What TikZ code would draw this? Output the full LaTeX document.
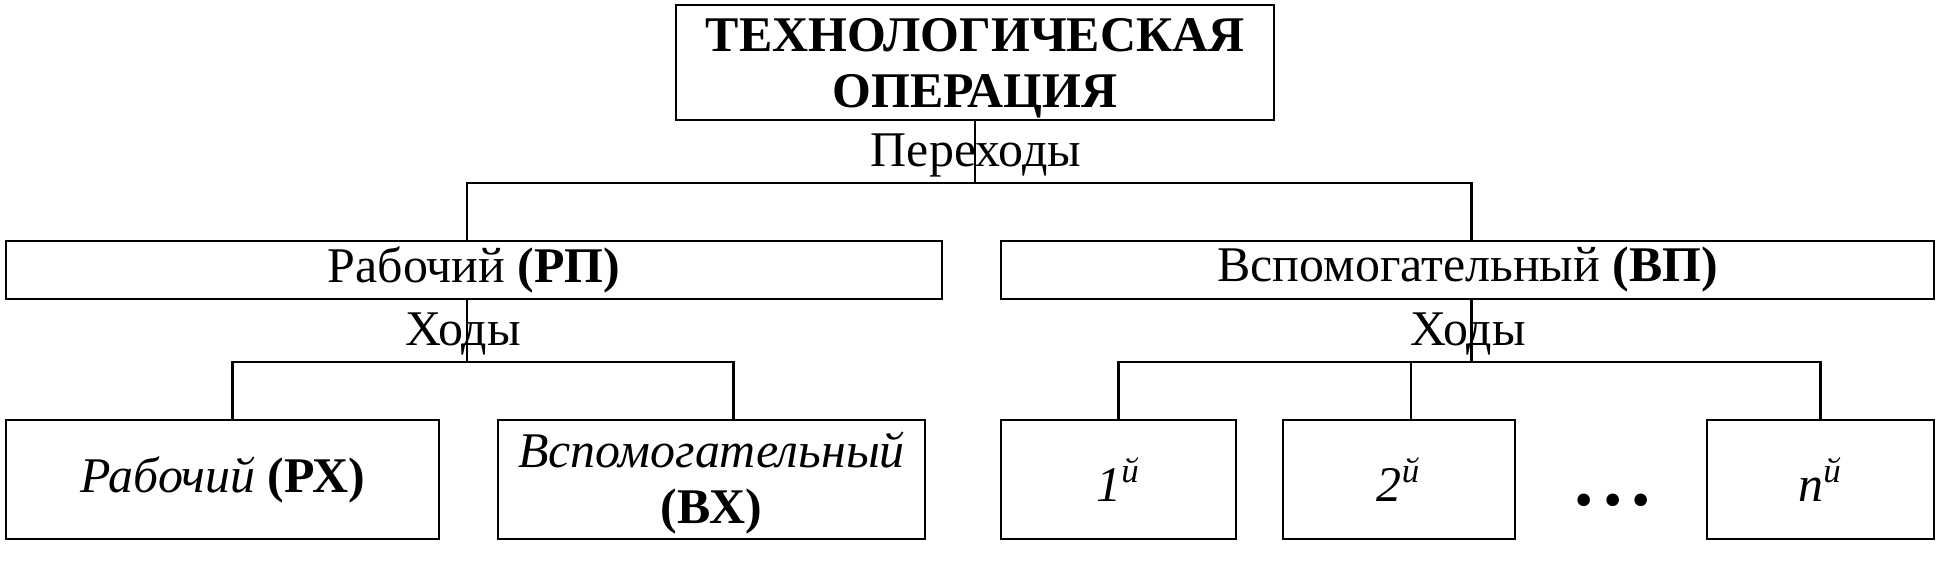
\documentclass[tikz,border=0pt]{standalone}
\usepackage{fontspec}
\setmainfont{Liberation Serif}
\usepackage{tikz}
\usetikzlibrary{calc, positioning}

\begin{document}
\begin{tikzpicture}[
    box/.style={draw, line width=0.7pt, inner sep=0pt, align=center, font=\fontsize{14.2}{16}\selectfont},
    lbl/.style={inner sep=0pt, font=\fontsize{14.2}{16}\selectfont},
    link/.style={line width=0.6pt}
]
\useasboundingbox (0,0) rectangle (19.38,-5.73);

% top
\node[box, minimum width=5.98cm, minimum height=1.15cm] (op) at (9.75,-0.625)
    {\raisebox{-0.06cm}[\height][\depth]{\begin{tabular}{@{}c@{}}\textbf{ТЕХНОЛОГИЧЕСКАЯ}\\\textbf{ОПЕРАЦИЯ}\end{tabular}}};

% transitions
\node[box, minimum width=9.36cm, minimum height=0.58cm] (rp) at (4.74,-2.70) {Рабочий \textbf{(РП)}};
\node[box, minimum width=9.33cm, minimum height=0.58cm] (vp) at (14.675,-2.70) {Вспомогательный \textbf{(ВП)}};

% passes
\node[box, minimum width=4.33cm, minimum height=1.19cm] (rx) at (2.225,-4.795) {\textit{Рабочий} \textbf{(РХ)}};
\node[box, minimum width=4.27cm, minimum height=1.19cm] (vx) at (7.115,-4.795)
    {\raisebox{-0.05cm}[\height][\depth]{\begin{tabular}{@{}c@{}}\textit{Вспомогательный}\\\textbf{(ВХ)}\end{tabular}}};
\node[box, minimum width=2.35cm, minimum height=1.19cm] (n1) at (11.185,-4.795) {\textit{1\textsuperscript{й}}};
\node[box, minimum width=2.32cm, minimum height=1.19cm] (n2) at (13.99,-4.795) {\textit{2\textsuperscript{й}}};
\node[box, minimum width=2.27cm, minimum height=1.19cm] (nn) at (18.205,-4.795) {\textit{n\textsuperscript{й}}};
\node[lbl, font=\fontsize{22}{22}\selectfont\bfseries] (dots) at (16.13,-5.0) {.\hspace{0.12em}.\hspace{0.12em}.};

% connectors
\draw[link] (op.south) -- ++(0,-0.62) coordinate (j0);
\draw[link] ([xshift=-0.07cm]rp.north) |- (j0) -| ([xshift=0.04cm]vp.north);
\draw[link] ([xshift=-0.07cm]rp.south) -- ++(0,-0.62) coordinate (jl);
\draw[link] ([xshift=0.1cm]rx.north) |- (jl) -| ([xshift=0.22cm]vx.north);
\draw[link] ([xshift=0.04cm]vp.south) -- ++(0,-0.62) coordinate (jr);
\draw[link] (n1.north) |- (jr) -| (nn.north);
\draw[link] ([xshift=0.12cm]n2.north) -- ([xshift=0.12cm]n2.north |- jr);

\node[lbl] (per) at (9.76,-1.55) {Переходы};
\node[lbl] (hl) at (4.63,-3.34) {Ходы};
\node[lbl] (hr) at (14.68,-3.34) {Ходы};
\end{tikzpicture}
\end{document}
